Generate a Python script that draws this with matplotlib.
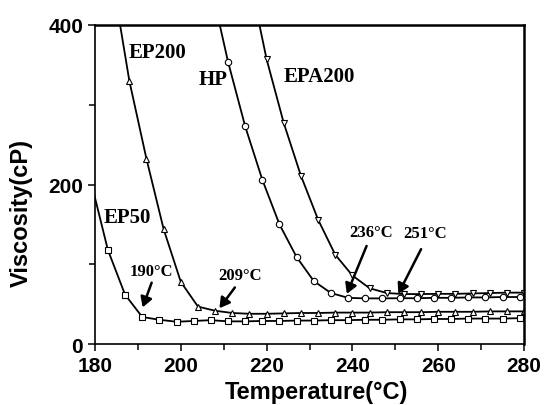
import matplotlib
matplotlib.use("Agg")
import matplotlib.pyplot as plt

# viscosity vs temperature
ep50_t = [179, 183, 187, 191, 195, 199, 203, 207, 211, 215, 219, 223, 227,
          231, 235, 239, 243, 247, 251, 255, 259, 263, 267, 271, 275, 279]
ep50_v = [205, 118, 62, 34, 30.5, 28, 29, 30, 28.5, 28.5, 29, 29, 29.5,
          29.5, 30, 30, 30.5, 30.5, 31, 31, 31.5, 31.5, 32, 32, 32, 32.5]

ep200_t = [184, 188, 192, 196, 200, 204, 208, 212, 216, 220, 224, 228, 232,
           236, 240, 244, 248, 252, 256, 260, 264, 268, 272, 276, 280]
ep200_v = [460, 330, 232, 144, 78, 47, 41.8, 39, 38, 38, 38.5, 39, 39,
           39.5, 39.5, 39.5, 40, 40, 40, 40.5, 40.5, 40.5, 41, 41, 41]

hp_t = [207, 211, 215, 219, 223, 227, 231, 235, 239, 243, 247, 251, 255,
        259, 263, 267, 271, 275, 279]
hp_v = [450, 354, 273, 206, 150, 109, 79, 64, 58, 57.3, 57.3, 57.5, 57.5,
        58, 58, 58.5, 58.5, 59, 59]

epa200_t = [216, 220, 224, 228, 232, 236, 240, 244, 248, 252, 256, 260, 264,
            268, 272, 276, 280]
epa200_v = [460, 357, 277, 211, 156, 112, 86, 70, 64, 62.7, 62.7, 63, 63,
            63.5, 64, 64.5, 64.5]

names = ["EP50", "EP200", "HP", "EPA200"]
onset = ["190°C", "209°C", "236°C", "251°C"]

fig = plt.figure(figsize=(5.47, 4.06), dpi=100)
ax = fig.add_axes([0.1737, 0.150, 0.7843, 0.786])

style = dict(color="black", lw=1.3, mfc="white", mec="black", mew=0.8)
ax.plot(ep50_t, ep50_v, marker="s", ms=4.3, **style)
ax.plot(ep200_t, ep200_v, marker="^", ms=5, **style)
ax.plot(hp_t, hp_v, marker="o", ms=4.6, **style)
ax.plot(epa200_t, epa200_v, marker="v", ms=5, **style)

ax.set_xlim(180, 280)
ax.set_ylim(0, 400)
ax.set_xticks([180, 200, 220, 240, 260, 280])
ax.set_xticks(range(190, 280, 20), minor=True)
ax.set_yticks([0, 200, 400])
ax.set_yticks([100, 300], minor=True)
ax.tick_params(which="both", direction="out", top=False, right=False,
               labelsize=15, width=1.1)
ax.tick_params(which="major", length=5)
ax.tick_params(which="minor", length=4)
for lab in ax.get_xticklabels() + ax.get_yticklabels():
    lab.set_fontweight("bold")
    lab.set_family("Liberation Sans")
for s in ["left", "bottom"]:
    ax.spines[s].set_linewidth(1.2)
for s in ["top", "right"]:
    ax.spines[s].set_linewidth(1.8)

ax.set_xlabel("Temperature(°C)", fontsize=17, fontweight="bold",
              family="Liberation Sans")
ax.set_ylabel("Viscosity(cP)", fontsize=17, fontweight="bold",
              family="Liberation Sans")
ax.xaxis.set_label_coords(0.515, -0.113)
ax.yaxis.set_label_coords(-0.145, 0.414)

serif = dict(family="Liberation Serif", fontweight="bold", ha="center", va="center")
ax.text(187.5, 159, names[0], fontsize=15, **serif)
ax.text(194.5, 366, names[1], fontsize=15, **serif)
ax.text(207.5, 332, names[2], fontsize=15, **serif)
ax.text(232.2, 336, names[3], fontsize=15, **serif)

arrow = dict(arrowstyle="-|>,head_length=0.6,head_width=0.35", color="black",
             lw=1.8, shrinkA=0, shrinkB=0)
ax.annotate("", xy=(191.1, 46), xytext=(193.2, 77), arrowprops=arrow)
ax.annotate("", xy=(209.0, 45), xytext=(212.6, 71), arrowprops=arrow)
ax.annotate("", xy=(238.7, 63), xytext=(243.3, 123), arrowprops=arrow)
ax.annotate("", xy=(250.7, 63), xytext=(256.0, 119), arrowprops=arrow)
ax.text(193.1, 91.5, onset[0], fontsize=12, **serif)
ax.text(213.8, 86.5, onset[1], fontsize=12, **serif)
ax.text(244.3, 140, onset[2], fontsize=12, **serif)
ax.text(256.9, 139, onset[3], fontsize=12, **serif)

fig.savefig("out.png", dpi=100)
